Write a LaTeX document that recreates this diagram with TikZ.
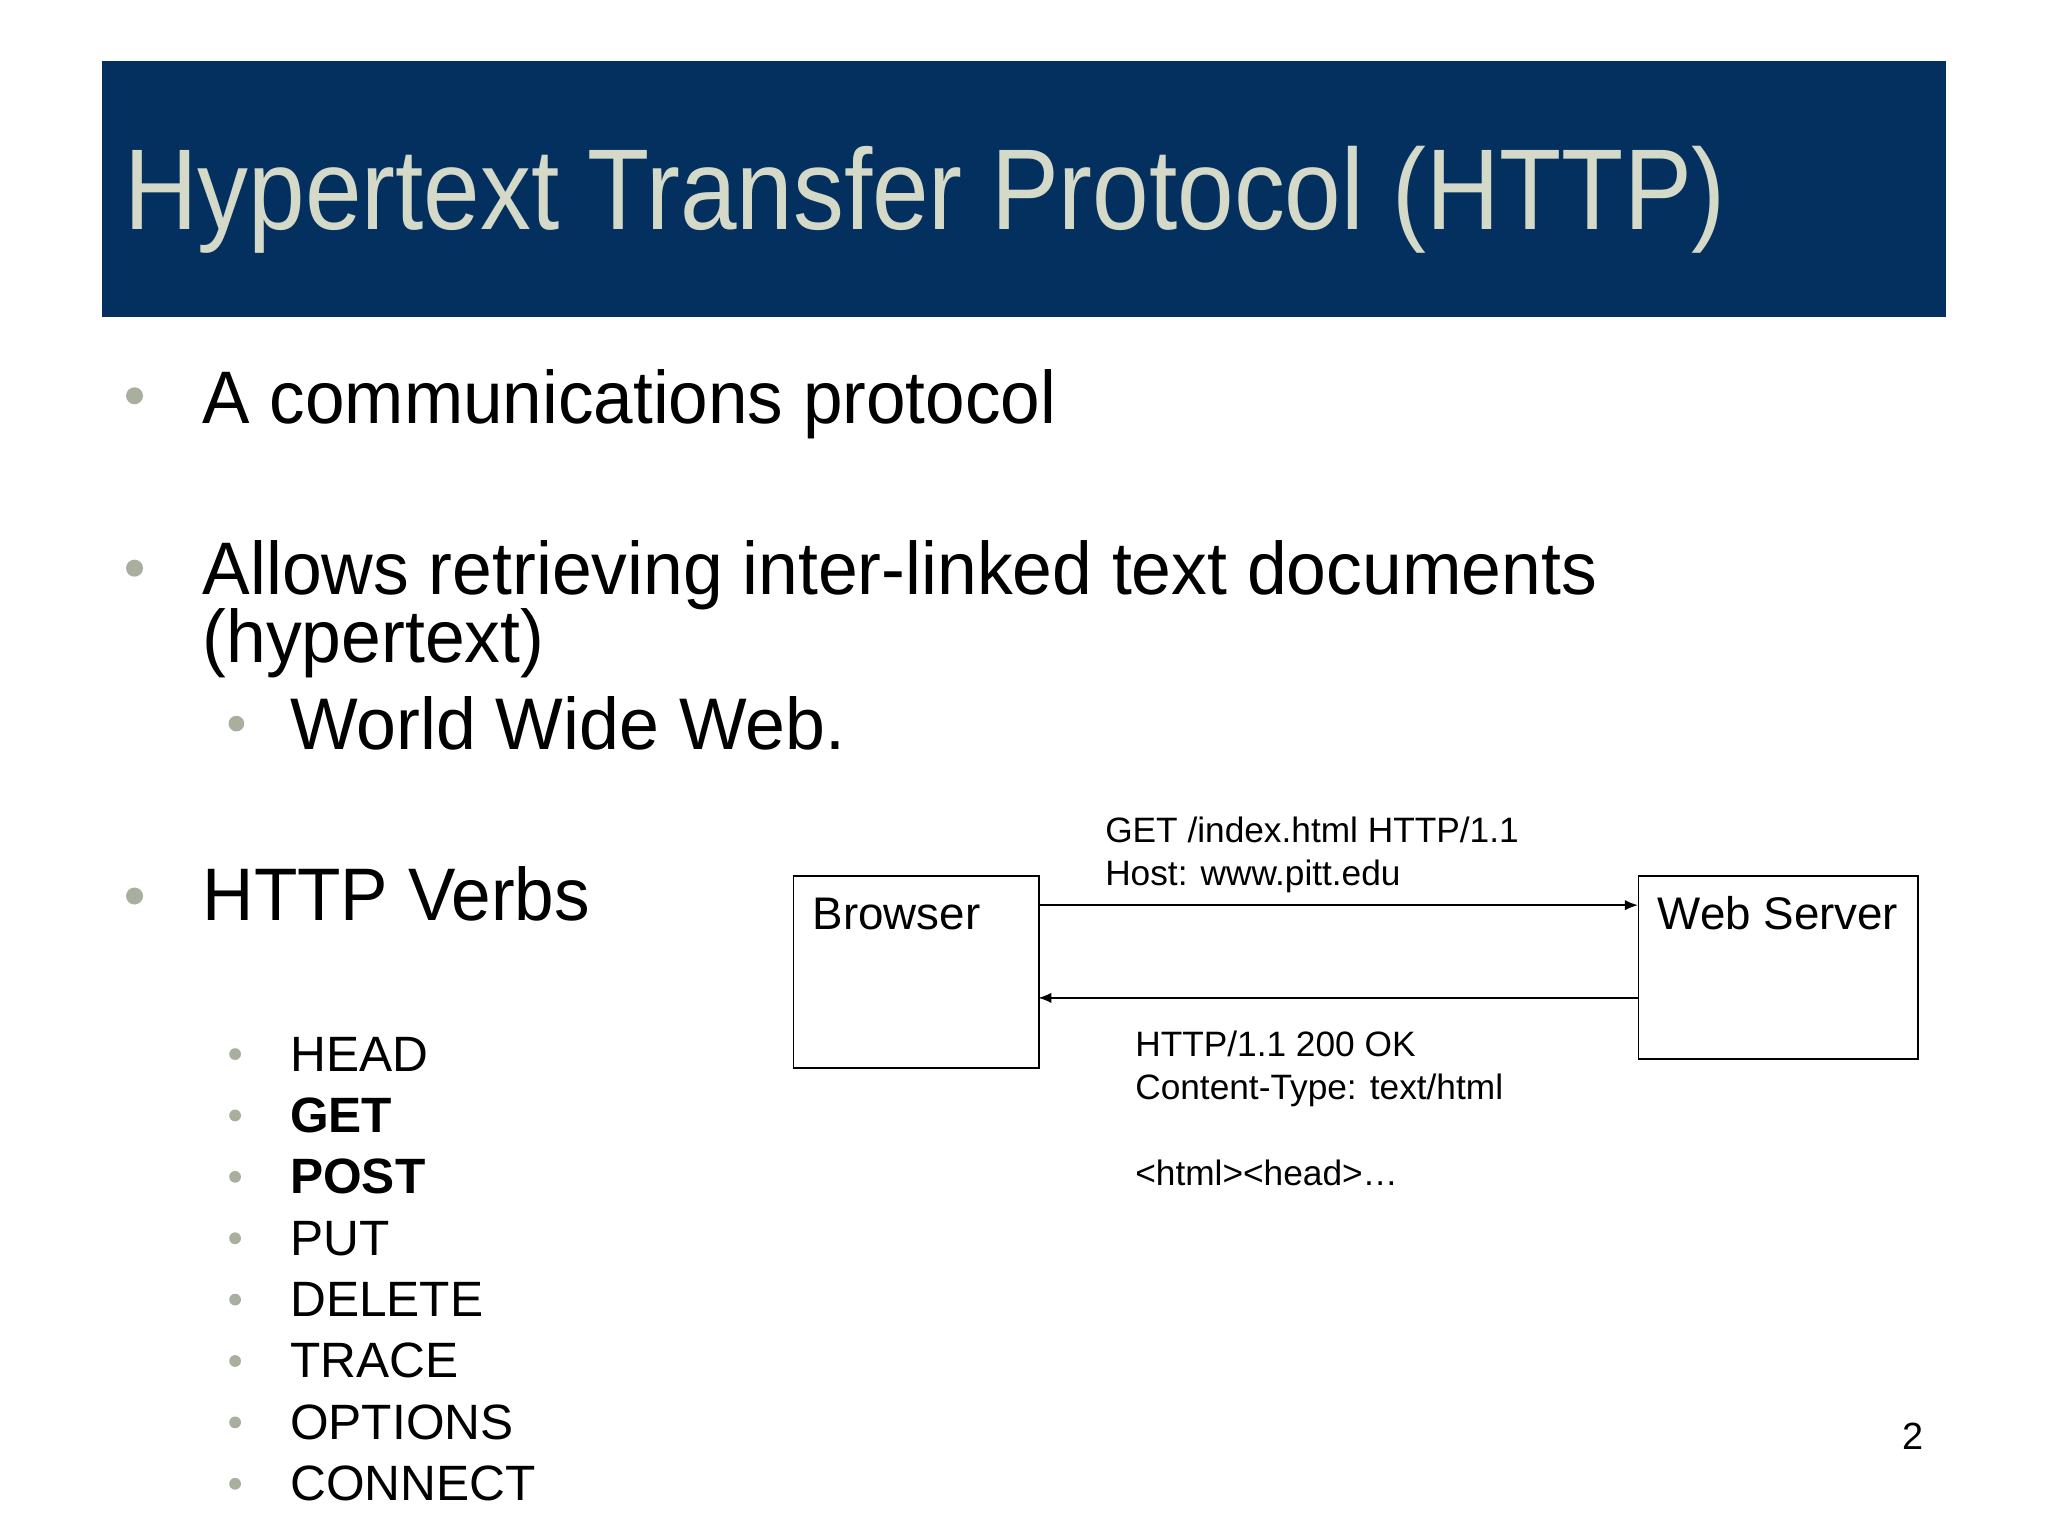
\documentclass[tikz,border=0pt]{standalone}
\usepackage{fontspec}
\setmainfont{Liberation Sans}
\definecolor{banner}{HTML}{03305F}
\definecolor{titlec}{HTML}{D4D9C8}
\definecolor{bul}{HTML}{A8AF9E}
\tikzset{
  txt/.style={anchor=base west,inner sep=0pt},
  dot/.style={circle,fill=bul,inner sep=0pt},
  box/.style={draw,line width=1.2pt,anchor=north west,inner sep=0pt},
  arr/.style={line width=1.2pt,-{Latex[length=10pt,width=8pt]}}
}
\usetikzlibrary{arrows.meta}
\begin{document}
\begin{tikzpicture}[x=1pt,y=-1pt]
\useasboundingbox (0,0) rectangle (1568,1176);
\fill[white] (0,0) rectangle (1568,1176);
\fill[banner] (78,47) rectangle (1490,243);
\node[txt,text=titlec,font=\fontsize{88}{100}\selectfont] (title) at (95,176) {\scalebox{0.885}[1]{Hypertext Transfer Protocol (HTTP)}};
% main bullets
\node[dot,minimum size=13pt] (b1) at (103,303) {};
\node[txt,font=\fontsize{57}{64}\selectfont] (t1) at (155,324) {\scalebox{0.955}[1]{A communications protocol}};
\node[dot,minimum size=13pt] (b2) at (103,435) {};
\node[txt,font=\fontsize{57}{64}\selectfont] (t2) at (155,455) {\scalebox{0.96}[1]{Allows retrieving inter-linked text documents}};
\node[txt,font=\fontsize{57}{64}\selectfont] (t2b) at (155,507) {\scalebox{0.96}[1]{(hypertext)}};
\node[dot,minimum size=12pt] (b3) at (181,554) {};
\node[txt,font=\fontsize{56}{64}\selectfont] (t3) at (222,574) {\scalebox{0.98}[1]{World Wide Web.}};
\node[dot,minimum size=13pt] (b4) at (103,686) {};
\node[txt,font=\fontsize{57}{64}\selectfont] (t4) at (155,705) {\scalebox{0.955}[1]{HTTP Verbs}};
% verbs
\foreach \i/\v in {0/HEAD,1/\textbf{GET},2/\textbf{POST},3/PUT,4/DELETE,5/TRACE,6/OPTIONS,7/CONNECT}{
  \node[dot,minimum size=9pt] (vb\i) at (180,{807+47*\i}) {};
  \node[txt,font=\fontsize{38}{44}\selectfont] (v\i) at (222,{820+47*\i}) {\v};
}
% diagram
\node[box,minimum width=188pt,minimum height=147pt] (browser) at (607,670) {};
\node[box,minimum width=214pt,minimum height=140pt] (server) at (1254,670) {};
\node[txt,font=\fontsize{35}{40}\selectfont] (bl) at (622,712) {Browser};
\node[txt,font=\fontsize{35}{40}\selectfont] (sl) at (1269,712) {Web Server};
\coordinate (a1s) at (795,693); \coordinate (a1e) at (1254,693);
\coordinate (a2s) at (1254,764); \coordinate (a2e) at (795,764);
\draw[arr] (a1s) -- (a1e);
\draw[arr] (a2s) -- (a2e);
\node[txt,font=\fontsize{27}{33}\selectfont] (req1) at (846,645) {GET /index.html HTTP/1.1};
\node[txt,font=\fontsize{27}{33}\selectfont] (req2) at (846,678) {Host: www.pitt.edu};
\node[txt,font=\fontsize{27}{33}\selectfont] (res1) at (869,809) {HTTP/1.1 200 OK};
\node[txt,font=\fontsize{27}{33}\selectfont] (res2) at (869,842) {Content-Type: text/html};
\node[txt,font=\fontsize{27}{33}\selectfont] (res3) at (869,908) {<html><head>…};
\node[txt,font=\fontsize{29}{33}\selectfont] (pg) at (1456,1110) {2};
\end{tikzpicture}
\end{document}
